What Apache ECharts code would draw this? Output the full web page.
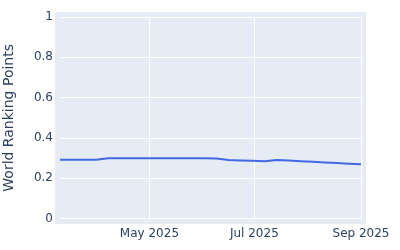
<!DOCTYPE html>
<html>
<head>
<meta charset="utf-8">
<script src="https://cdn.jsdelivr.net/npm/echarts@6/dist/echarts.min.js"></script>
<style>html,body{margin:0;padding:0;background:#fff;}#c{width:400px;height:250px;}</style>
</head>
<body>
<div id="c"></div>
<script>
const dates = ['2025-03-10','2025-03-17','2025-03-24','2025-03-31','2025-04-07','2025-04-14','2025-04-21','2025-04-28','2025-05-05','2025-05-12','2025-05-19','2025-05-26','2025-06-02','2025-06-09','2025-06-16','2025-06-23','2025-06-30','2025-07-07','2025-07-14','2025-07-21','2025-07-28','2025-08-04','2025-08-11','2025-08-18','2025-08-25','2025-09-01'];
const points = [0.2925,0.2925,0.2925,0.2920,0.2995,0.2995,0.2995,0.2995,0.2995,0.2995,0.2995,0.2995,0.2995,0.2990,0.2910,0.2890,0.2870,0.2846,0.2910,0.2880,0.2850,0.2820,0.2790,0.2760,0.2730,0.2700];
const xTicks = ['2025-05-01','2025-07-01','2025-09-01'];
const xTickLabels = ['May 2025','Jul 2025','Sep 2025'];
const yTicks = [0,0.2,0.4,0.6,0.8,1];

const chart = echarts.init(document.getElementById('c'), null, {renderer:'canvas'});
const ts = s => new Date(s + 'T00:00:00Z').getTime();
const tickTs = xTicks.map(ts);
const txt = '#2a3f5f';
chart.setOption({
  animation:false,
  textStyle:{fontFamily:'"DejaVu Sans", sans-serif'},
  graphic:[{type:'rect', z:-10, silent:true, shape:{x:55,y:12,width:311,height:212}, style:{fill:'#E5ECF6'}}],
  grid:{left:60,right:39,top:17,bottom:31.3, containLabel:false, outerBoundsMode:'none'},
  xAxis:{
    type:'value',
    min:ts(dates[0]), max:ts(dates[dates.length-1]),
    axisLine:{show:false}, axisTick:{show:false, customValues:tickTs},
    axisLabel:{customValues:tickTs, color:txt, fontSize:12, margin:9,
      formatter:(v)=>{const i=tickTs.indexOf(v);return i>=0?xTickLabels[i]:'';}},
    splitLine:{show:true, lineStyle:{color:'#fff', width:1}}
  },
  yAxis:{
    type:'value', min:yTicks[0], max:yTicks[yTicks.length-1], interval:0.2,
    name:'World Ranking Points', nameLocation:'middle', nameGap:44,
    nameTextStyle:{color:txt, fontSize:14},
    axisLine:{show:false}, axisTick:{show:false},
    axisLabel:{color:txt, fontSize:12, margin:7, formatter:v=>String(Math.round(v*10)/10)},
    splitLine:{lineStyle:{color:'#fff', width:1}}
  },
  series:[{
    type:'line', data:dates.map((d,i)=>[ts(d),points[i]]),
    showSymbol:false, lineStyle:{color:'#4169E1', width:2}, itemStyle:{color:'#4169E1'}
  }]
});
</script>
</body>
</html>
